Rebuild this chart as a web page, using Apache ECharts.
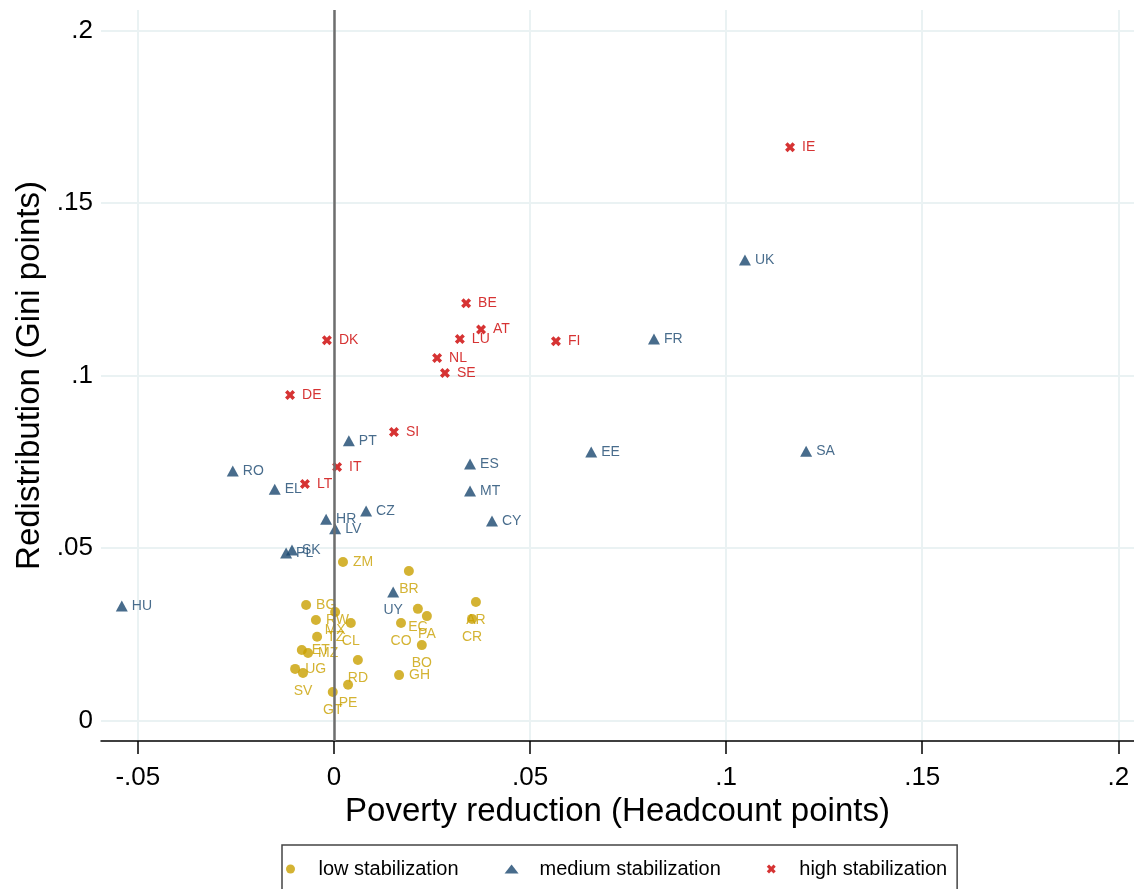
<!DOCTYPE html>
<html>
<head>
<meta charset="utf-8">
<title>Redistribution vs poverty reduction</title>
<script src="https://cdn.jsdelivr.net/npm/echarts@6/dist/echarts.min.js"></script>
<style>
  html, body { margin: 0; padding: 0; background: #fff; }
  #chart { width: 1134px; height: 889px; }
</style>
</head>
<body>
<div id="chart"></div>
<script>
// low stabilization
const lowNames = ['ZM', 'BR', 'BG', 'MX', 'RW', 'CL', 'TZ', 'ET', 'MZ', 'RD', 'UG', 'SV', 'PE', 'GT', 'EC', 'PA', 'CO', 'BO', 'GH', 'AR', 'CR']
const lowX = [0.0023, 0.0191, -0.0071, 0.0003, -0.0046, 0.0043, -0.0043, -0.0082, -0.0066, 0.0061, -0.0099, -0.0079, 0.0036, -0.0003, 0.0214, 0.0237, 0.0171, 0.0224, 0.0166, 0.0362, 0.0352]
const lowY = [0.0460, 0.0434, 0.0335, 0.0315, 0.0292, 0.0283, 0.0243, 0.0205, 0.0196, 0.0176, 0.0150, 0.0138, 0.0104, 0.0083, 0.0324, 0.0303, 0.0283, 0.0219, 0.0132, 0.0344, 0.0295]

// medium stabilization
const medNames = ['UK', 'FR', 'SA', 'EE', 'PT', 'ES', 'MT', 'CY', 'RO', 'EL', 'HR', 'LV', 'CZ', 'PL', 'SK', 'HU', 'UY']
const medX = [0.1048, 0.0816, 0.1204, 0.0656, 0.0038, 0.0347, 0.0347, 0.0403, -0.0258, -0.0151, -0.0020, 0.0003, 0.0082, -0.0122, -0.0107, -0.0541, 0.0151]
const medY = [0.1335, 0.1106, 0.0781, 0.0779, 0.0811, 0.0744, 0.0666, 0.0579, 0.0724, 0.0671, 0.0584, 0.0556, 0.0608, 0.0486, 0.0495, 0.0332, 0.0373]

// high stabilization
const highNames = ['IE', 'BE', 'AT', 'LU', 'DK', 'FI', 'NL', 'SE', 'DE', 'SI', 'IT', 'LT']
const highX = [0.1163, 0.0337, 0.0375, 0.0321, -0.0018, 0.0566, 0.0263, 0.0283, -0.0112, 0.0153, 0.0008, -0.0074]
const highY = [0.1662, 0.1210, 0.1134, 0.1106, 0.1103, 0.1100, 0.1051, 0.1008, 0.0944, 0.0837, 0.0735, 0.0686]

const xTicks = [-0.05, 0, 0.05, 0.1, 0.15, 0.2]
const xTickLabels = ['-.05', '0', '.05', '.1', '.15', '.2']
const yTicks = [0, 0.05, 0.1, 0.15, 0.2]
const yTickLabels = ['0', '.05', '.1', '.15', '.2']

// labels placed under the marker instead of to the right
const labelBelow = ['BR', 'MX', 'CL', 'RD', 'SV', 'PE', 'GT', 'EC', 'PA', 'CO', 'BO', 'AR', 'CR', 'UY']

const gold = '#c9a000'
const navy = '#1a476f'
const red = '#cc0000'
const font = '"Liberation Sans", Arial, sans-serif'
const crossPath = 'path://M0,2.5 L2.5,0 L5,2.5 L7.5,0 L10,2.5 L7.5,5 L10,7.5 L7.5,10 L5,7.5 L2.5,10 L0,7.5 L2.5,5 Z'

function points(names, xs, ys) {
  return names.map((n, i) => {
    const p = { name: n, value: [xs[i], ys[i]] }
    if (labelBelow.indexOf(n) >= 0) {
      p.label = { position: 'bottom', distance: 6 }
    }
    return p
  })
}

function tickLabel(ticks, labels) {
  return v => {
    const i = ticks.findIndex(t => Math.abs(t - v) < 1e-9)
    return i >= 0 ? labels[i] : ''
  }
}

function seriesLabel(color, dist) {
  return {
    show: true,
    formatter: '{b}',
    position: 'right',
    distance: dist,
    color: color,
    fontSize: 14,
    fontFamily: font
  }
}

const chart = echarts.init(document.getElementById('chart'), null, { renderer: 'canvas' })

chart.setOption({
  backgroundColor: '#fff',
  animation: false,
  grid: { left: 101, right: 0, top: 10, bottom: 148, outerBoundsMode: 'none', containLabel: false },
  xAxis: {
    type: 'value',
    min: -0.0594,
    max: 0.204,
    name: 'Poverty reduction (Headcount points)',
    nameLocation: 'middle',
    nameGap: 53,
    nameTextStyle: { fontSize: 33, color: '#000', fontFamily: font },
    axisLine: { show: true, onZero: false, lineStyle: { color: '#000', width: 1.5 } },
    axisTick: { show: true, length: 13, customValues: xTicks, lineStyle: { color: '#000', width: 1.5 } },
    axisLabel: {
      customValues: xTicks,
      formatter: tickLabel(xTicks, xTickLabels),
      fontSize: 26, color: '#000', fontFamily: font, margin: 24
    },
    splitLine: { show: true, lineStyle: { color: '#eaf2f3', width: 2 } }
  },
  yAxis: {
    type: 'value',
    min: -0.0059,
    max: 0.206,
    name: 'Redistribution (Gini points)',
    nameLocation: 'middle',
    nameGap: 55,
    nameTextStyle: { fontSize: 33, color: '#000', fontFamily: font },
    axisLine: { show: false },
    axisTick: { show: false, customValues: yTicks },
    axisLabel: {
      customValues: yTicks,
      formatter: tickLabel(yTicks, yTickLabels),
      fontSize: 26, color: '#000', fontFamily: font, margin: 8
    },
    splitLine: { show: true, lineStyle: { color: '#eaf2f3', width: 2 } }
  },
  legend: {
    left: 282,
    top: 845,
    orient: 'horizontal',
    data: ['low stabilization', 'medium stabilization', 'high stabilization'],
    itemWidth: 14,
    itemHeight: 9,
    itemGap: 46,
    padding: [14, 10, 30, 4],
    borderColor: '#444',
    borderWidth: 1.5,
    textStyle: { fontSize: 20, color: '#000', fontFamily: font, padding: [0, 0, 0, 16] }
  },
  series: [
    {
      name: 'low stabilization',
      type: 'scatter',
      symbol: 'circle',
      symbolSize: 10,
      itemStyle: { color: gold },
      label: seriesLabel(gold, 5),
      data: points(lowNames, lowX, lowY),
      markLine: {
        silent: true,
        symbol: 'none',
        label: { show: false },
        lineStyle: { color: '#6e6e6e', width: 2.5, type: 'solid' },
        data: [{ xAxis: 0 }]
      }
    },
    {
      name: 'medium stabilization',
      type: 'scatter',
      symbol: 'triangle',
      symbolSize: [12, 11],
      itemStyle: { color: navy },
      label: seriesLabel(navy, 4),
      data: points(medNames, medX, medY)
    },
    {
      name: 'high stabilization',
      type: 'scatter',
      symbol: crossPath,
      symbolSize: 10,
      itemStyle: { color: red },
      label: seriesLabel(red, 7),
      data: points(highNames, highX, highY)
    }
  ]
})
</script>
</body>
</html>
